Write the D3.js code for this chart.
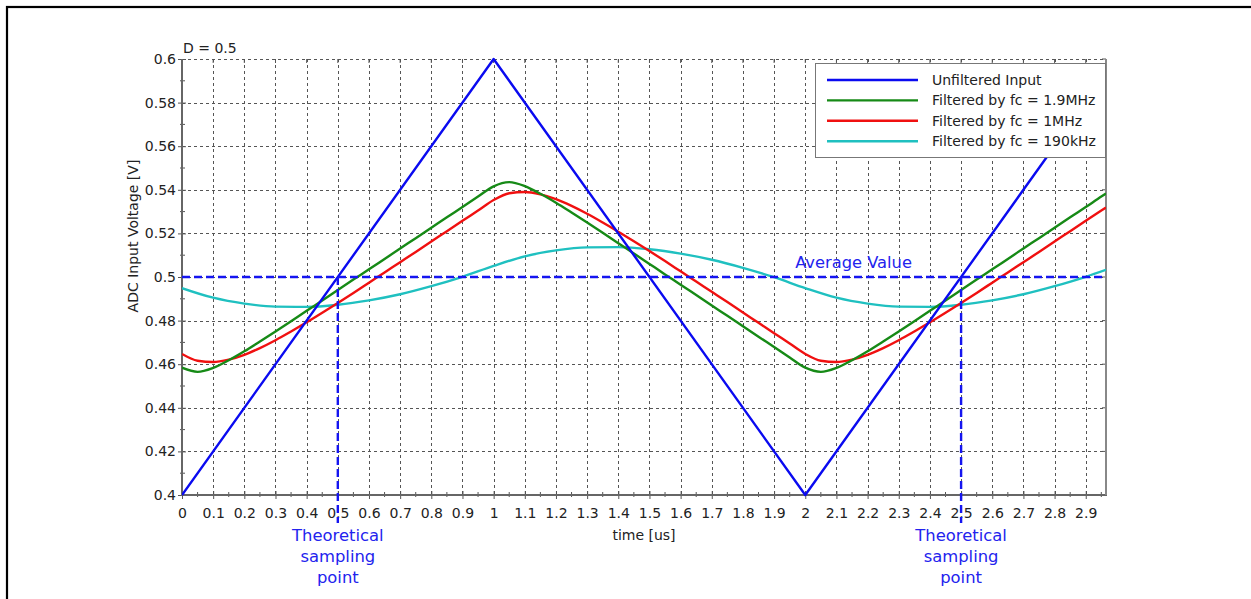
<!DOCTYPE html>
<html>
<head>
<meta charset="utf-8">
<script src="https://cdn.jsdelivr.net/npm/d3@7"></script>
<style>
  html, body { margin: 0; padding: 0; background: #fff; }
  svg { display: block; font-family: "DejaVu Sans", Verdana, sans-serif; }
</style>
</head>
<body>
<svg id="chart" width="1251" height="599"></svg>
<script>
// ---------------- data ----------------
const xTickValues = [0,0.1,0.2,0.3,0.4,0.5,0.6,0.7,0.8,0.9,1,1.1,1.2,1.3,1.4,1.5,1.6,1.7,1.8,1.9,2,2.1,2.2,2.3,2.4,2.5,2.6,2.7,2.8,2.9];
const yTickValues = [0.4,0.42,0.44,0.46,0.48,0.5,0.52,0.54,0.56,0.58,0.6];

const blueTime = [0, 1, 2, 2.965];
const blueValues = [0.4, 0.6, 0.4, 0.593];

const fineTime = [0,0.05,0.1,0.15,0.2,0.25,0.3,0.35,0.4,0.45,0.5,0.55,0.6,0.65,0.7,0.75,0.8,0.85,0.9,0.95,
  1,1.05,1.1,1.15,1.2,1.25,1.3,1.35,1.4,1.45,1.5,1.55,1.6,1.65,1.7,1.75,1.8,1.85,1.9,1.95,
  2,2.05,2.1,2.15,2.2,2.25,2.3,2.35,2.4,2.45,2.5,2.55,2.6,2.65,2.7,2.75,2.8,2.85,2.9,2.95,2.965];

const greenValues = [0.4584,0.4565,0.4583,0.4618,0.4659,0.4704,0.4750,0.4797,0.4845,0.4892,0.4940,0.4988,0.5035,0.5083,0.5131,0.5178,0.5226,0.5274,0.5321,0.5369,
  0.5416,0.5435,0.5417,0.5382,0.5341,0.5296,0.5250,0.5203,0.5155,0.5108,0.5060,0.5012,0.4965,0.4917,0.4869,0.4822,0.4774,0.4726,0.4679,0.4631,
  0.4584,0.4565,0.4583,0.4618,0.4659,0.4704,0.4750,0.4797,0.4845,0.4892,0.4940,0.4988,0.5035,0.5083,0.5131,0.5178,0.5226,0.5274,0.5321,0.5369,0.5383];

const redValues = [0.4647,0.4616,0.4610,0.4621,0.4643,0.4674,0.4710,0.4750,0.4792,0.4836,0.4881,0.4927,0.4974,0.5021,0.5068,0.5115,0.5163,0.5210,0.5258,0.5305,
  0.5353,0.5384,0.5390,0.5379,0.5357,0.5326,0.5290,0.5250,0.5208,0.5164,0.5119,0.5073,0.5026,0.4979,0.4932,0.4885,0.4837,0.4790,0.4742,0.4695,
  0.4647,0.4616,0.4610,0.4621,0.4643,0.4674,0.4710,0.4750,0.4792,0.4836,0.4881,0.4927,0.4974,0.5021,0.5068,0.5115,0.5163,0.5210,0.5258,0.5305,0.5319];

const coarseTime = [0,0.1,0.2,0.3,0.4,0.5,0.6,0.7,0.8,0.9,1,1.1,1.2,1.3,1.4,1.5,1.6,1.7,1.8,1.9,2,2.1,2.2,2.3,2.4,2.5,2.6,2.7,2.8,2.9,2.965];
const cyanValues = [0.4949,0.4905,0.4878,0.4864,0.4863,0.4873,0.4893,0.4921,0.4958,0.5001,
  0.5051,0.5095,0.5122,0.5136,0.5137,0.5127,0.5107,0.5079,0.5042,0.4999,
  0.4949,0.4905,0.4878,0.4864,0.4863,0.4873,0.4893,0.4921,0.4958,0.5001,0.5033];

const seriesNames = ["Unfiltered Input", "Filtered by fc = 1.9MHz", "Filtered by fc = 1MHz", "Filtered by fc = 190kHz"];
const seriesColors = ["#0a0af0", "#168a16", "#f01010", "#1fc0c0"];

const averageValue = 0.5;
const samplingTimes = [0.5, 2.5];
const samplingLabel = ["Theoretical", "sampling", "point"];

// ---------------- layout ----------------
const svg = d3.select("#chart");
const L = 182, R = 1106, T = 59, B = 495;
const x = d3.scaleLinear().domain([0, 2.965]).range([L, R]);
const y = d3.scaleLinear().domain([0.4, 0.6]).range([B, T]);
const fmt = d3.format("~g");

// outer frame
svg.append("rect").attr("x", 7).attr("y", 7).attr("width", 1260).attr("height", 620)
  .attr("fill", "none").attr("stroke", "#000").attr("stroke-width", 2.2);

// grid
const grid = svg.append("g").attr("stroke", "#555").attr("stroke-width", 1).attr("stroke-dasharray", "3,3");
grid.selectAll("line.v").data(xTickValues.filter(d => d > 0)).join("line")
  .attr("x1", d => Math.round(x(d)) + 0.5).attr("x2", d => Math.round(x(d)) + 0.5)
  .attr("y1", T).attr("y2", B);
grid.selectAll("line.h").data(yTickValues.filter(d => d > 0.4)).join("line")
  .attr("x1", L).attr("x2", R)
  .attr("y1", d => Math.round(y(d)) + 0.5).attr("y2", d => Math.round(y(d)) + 0.5);

// axes (labels through d3 axes)
const xAxis = svg.append("g").attr("transform", `translate(0,${B})`)
  .call(d3.axisBottom(x).tickValues(xTickValues).tickFormat(fmt).tickSize(4).tickPadding(9));
xAxis.select(".domain").remove();
xAxis.selectAll(".tick line").attr("stroke", "#555").attr("y1", -4).attr("y2", 4);
xAxis.selectAll("text").attr("font-size", 14).attr("fill", "#222").attr("font-family", "DejaVu Sans, Verdana, sans-serif");

const yAxis = svg.append("g").attr("transform", `translate(${L},0)`)
  .call(d3.axisLeft(y).tickValues(yTickValues).tickFormat(fmt).tickSize(4).tickPadding(2));
yAxis.select(".domain").remove();
yAxis.selectAll(".tick line").attr("stroke", "#555").attr("x1", -4).attr("x2", 4);
yAxis.selectAll("text").attr("font-size", 14).attr("fill", "#222").attr("font-family", "DejaVu Sans, Verdana, sans-serif");

// minor ticks
const minorX = d3.range(0.05, 2.965, 0.1);
const minorY = d3.range(0.41, 0.6, 0.02);
const mt = svg.append("g").attr("stroke", "#555").attr("stroke-width", 1);
mt.selectAll("line.mx").data(minorX).join("line")
  .attr("x1", d => x(d)).attr("x2", d => x(d)).attr("y1", B - 3).attr("y2", B + 2);
mt.selectAll("line.my").data(minorY).join("line")
  .attr("x1", L - 2).attr("x2", L + 3).attr("y1", d => y(d)).attr("y2", d => y(d));
// top ticks
mt.selectAll("line.tx").data(xTickValues.filter(d => d > 0)).join("line")
  .attr("x1", d => x(d)).attr("x2", d => x(d)).attr("y1", T).attr("y2", T + 4);
mt.selectAll("line.ry").data(yTickValues).join("line")
  .attr("x1", R - 4).attr("x2", R).attr("y1", d => y(d)).attr("y2", d => y(d));

// frame lines
svg.append("line").attr("x1", L).attr("x2", L).attr("y1", T).attr("y2", B + 1).attr("stroke", "#666").attr("stroke-width", 2);
svg.append("line").attr("x1", L).attr("x2", R + 1).attr("y1", B).attr("y2", B).attr("stroke", "#666").attr("stroke-width", 2);
svg.append("line").attr("x1", R).attr("x2", R).attr("y1", T).attr("y2", B).attr("stroke", "#888").attr("stroke-width", 2);

// clip
svg.append("clipPath").attr("id", "clip").append("rect").attr("x", L).attr("y", T - 2).attr("width", R - L).attr("height", B - T + 4);
const plot = svg.append("g").attr("clip-path", "url(#clip)");

const lineGen = d3.line().x(d => x(d[0])).y(d => y(d[1]));
const smoothGen = d3.line().x(d => x(d[0])).y(d => y(d[1])).curve(d3.curveMonotoneX);

const series = [
  { pts: d3.zip(coarseTime, cyanValues), color: seriesColors[3], gen: smoothGen },
  { pts: d3.zip(fineTime, redValues), color: seriesColors[2], gen: smoothGen },
  { pts: d3.zip(fineTime, greenValues), color: seriesColors[1], gen: smoothGen },
  { pts: d3.zip(blueTime, blueValues), color: seriesColors[0], gen: lineGen }
];
series.forEach(s => {
  plot.append("path").attr("d", s.gen(s.pts)).attr("fill", "none")
    .attr("stroke", s.color).attr("stroke-width", 2.4).attr("stroke-linejoin", "round");
});

// average line
svg.append("line").attr("x1", L).attr("x2", R).attr("y1", y(averageValue)).attr("y2", y(averageValue))
  .attr("stroke", "#1515f0").attr("stroke-width", 2.4).attr("stroke-dasharray", "8,4");
svg.append("text").attr("x", x(2.155)).attr("y", y(averageValue) - 9).attr("text-anchor", "middle")
  .attr("font-size", 16.3).attr("fill", "#2323ee").text("Average Value");

// sampling lines
samplingTimes.forEach(t => {
  svg.append("line").attr("x1", x(t)).attr("x2", x(t)).attr("y1", y(averageValue)).attr("y2", 523)
    .attr("stroke", "#1515f0").attr("stroke-width", 2.4).attr("stroke-dasharray", "8,4");
  const tx = svg.append("text").attr("text-anchor", "middle").attr("font-size", 16.4).attr("fill", "#2323ee");
  samplingLabel.forEach((w, i) => {
    tx.append("tspan").attr("x", x(t)).attr("y", 540.5 + i * 21.2).text(w);
  });
});

// legend
const lg = svg.append("g");
lg.append("rect").attr("x", 815.5).attr("y", 63.5).attr("width", 290).attr("height", 94)
  .attr("fill", "#fff").attr("stroke", "#777").attr("stroke-width", 1);
seriesNames.forEach((n, i) => {
  const yy = 80 + i * 20.4;
  lg.append("line").attr("x1", 827).attr("x2", 918).attr("y1", yy).attr("y2", yy)
    .attr("stroke", seriesColors[i]).attr("stroke-width", 2.4);
  lg.append("text").attr("x", 932).attr("y", yy + 5).attr("font-size", 14).attr("fill", "#222").text(n);
});

// titles
svg.append("text").attr("x", 183).attr("y", 53).attr("font-size", 14).attr("fill", "#222").text("D = 0.5");
svg.append("text").attr("x", (L + R) / 2).attr("y", 540).attr("text-anchor", "middle")
  .attr("font-size", 14).attr("fill", "#222").text("time [us]");
svg.append("text").attr("transform", "translate(138,236) rotate(-90)").attr("text-anchor", "middle")
  .attr("font-size", 14).attr("fill", "#222").text("ADC Input Voltage [V]");
</script>
</body>
</html>
